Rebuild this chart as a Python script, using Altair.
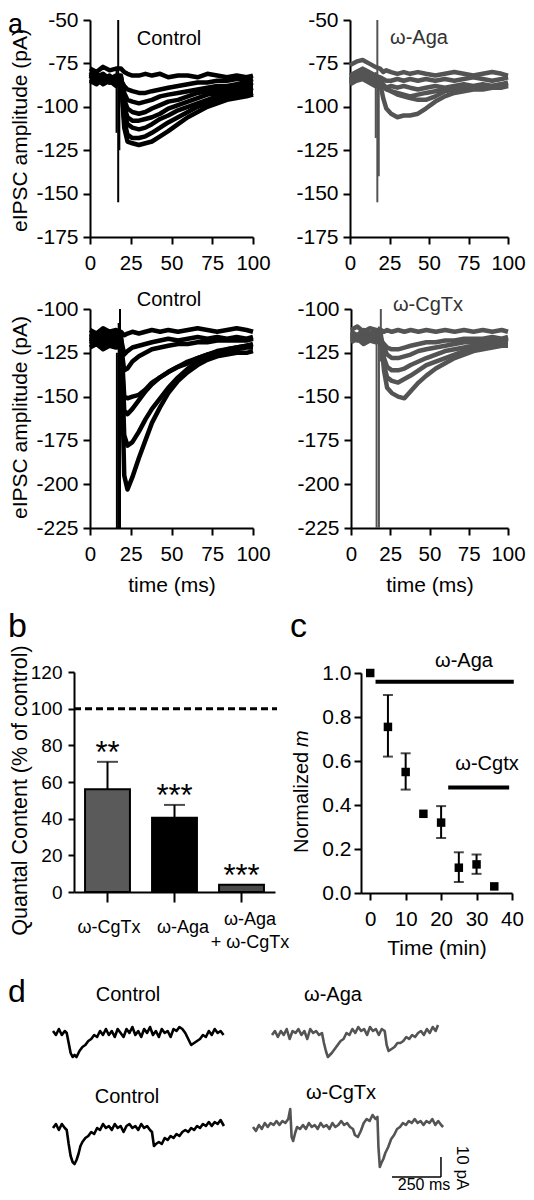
import altair as alt
import pandas as pd

W, H = 518, 1184
M = 8
FONT = "Liberation Sans"
BLACK = "#000000"
GRAY = "#545454"

# ---------------- panel a : evoked IPSC traces ----------------
T_A = [0, 4, 8, 12, 16, 19, 21, 23, 26, 30, 34, 38, 43, 48, 54, 60, 66, 72, 78, 84, 90, 96, 100]

CTRL1_TRACES = [
    [-78, -80, -77, -79, -78, -78, -80, -81, -82, -82, -81, -82, -81, -83, -82, -82, -83, -81, -82, -83, -82, -83, -82],
    [-84, -82, -85, -83, -86, -85, -88, -90, -91, -92, -92, -91, -90, -89, -88, -87, -86, -86, -85, -85, -84, -85, -84],
    [-82, -85, -83, -86, -84, -83, -92, -96, -97, -98, -97, -96, -94, -93, -92, -91, -90, -89, -88, -88, -87, -87, -86],
    [-86, -84, -87, -85, -88, -86, -96, -101, -103, -104, -103, -101, -99, -97, -96, -94, -92, -91, -90, -89, -89, -88, -88],
    [-80, -83, -81, -84, -82, -82, -100, -106, -108, -108, -107, -106, -104, -101, -99, -97, -95, -93, -92, -91, -90, -90, -89],
    [-85, -87, -84, -86, -85, -84, -104, -110, -112, -113, -112, -110, -107, -105, -102, -100, -98, -96, -94, -93, -92, -91, -91],
    [-83, -81, -84, -82, -86, -85, -108, -116, -118, -118, -117, -115, -112, -109, -106, -103, -100, -98, -96, -95, -94, -93, -92],
    [-81, -84, -82, -85, -83, -83, -112, -120, -121, -122, -121, -120, -117, -114, -110, -106, -103, -100, -98, -96, -95, -94, -93],
]
CTRL1_ART_T = [16.3, 17.3, 18.0]
CTRL1_ART_TOP = [-78, -50, -85]
CTRL1_ART_BOT = [-115, -155, -125]

AGA_TRACES = [
    [-76, -74, -73, -75, -77, -78, -80, -79, -80, -81, -80, -81, -80, -81, -82, -81, -80, -81, -82, -81, -80, -81, -82],
    [-82, -80, -78, -80, -82, -83, -84, -85, -85, -84, -85, -84, -85, -84, -85, -84, -85, -84, -83, -84, -85, -84, -83],
    [-85, -83, -81, -84, -86, -86, -88, -89, -88, -89, -88, -89, -90, -89, -88, -89, -88, -87, -88, -87, -88, -87, -86],
    [-87, -85, -84, -86, -88, -87, -88, -90, -91, -92, -93, -94, -93, -92, -91, -90, -89, -90, -89, -88, -89, -88, -87],
    [-84, -82, -80, -82, -84, -84, -87, -89, -91, -93, -94, -95, -96, -96, -94, -91, -90, -89, -89, -88, -88, -87, -87],
    [-86, -84, -82, -85, -87, -86, -95, -101, -104, -106, -105, -105, -104, -101, -97, -94, -92, -91, -90, -90, -89, -89, -88],
]
AGA_ART_T = [16.3, 17.3, 18.2]
AGA_ART_TOP = [-80, -50, -85]
AGA_ART_BOT = [-118, -155, -140]

CTRL2_TRACES = [
    [-112, -114, -111, -113, -112, -113, -115, -114, -113, -114, -113, -112, -113, -112, -113, -112, -111, -112, -113, -112, -111, -112, -113],
    [-118, -116, -119, -117, -118, -117, -126, -124, -122, -121, -120, -119, -118, -117, -118, -117, -116, -117, -116, -117, -116, -117, -116],
    [-122, -120, -123, -121, -122, -121, -135, -134, -130, -127, -125, -123, -122, -121, -120, -120, -119, -119, -118, -118, -118, -118, -117],
    [-115, -117, -114, -116, -115, -116, -150, -151, -150, -149, -146, -142, -139, -136, -133, -131, -128, -126, -124, -123, -122, -121, -120],
    [-120, -118, -121, -119, -120, -119, -158, -160, -157, -152, -147, -143, -139, -136, -133, -130, -128, -126, -125, -124, -123, -122, -122],
    [-117, -119, -116, -118, -117, -118, -172, -178, -176, -170, -163, -157, -151, -145, -139, -134, -130, -127, -125, -123, -122, -121, -121],
    [-114, -116, -113, -115, -114, -116, -195, -203, -196, -185, -175, -165, -156, -148, -141, -136, -132, -129, -127, -126, -125, -125, -124],
]
CTRL2_ART_T = [16.5, 17.6, 18.4]
CTRL2_ART_TOP = [-125, -108, -100]
CTRL2_ART_BOT = [-225, -225, -225]

CGTX_TRACES = [
    [-112, -110, -113, -111, -112, -112, -113, -112, -113, -112, -113, -112, -113, -112, -113, -112, -113, -112, -113, -112, -113, -112, -113],
    [-117, -115, -118, -116, -117, -118, -120, -122, -123, -123, -122, -121, -120, -119, -119, -118, -118, -117, -117, -117, -116, -117, -116],
    [-114, -116, -113, -115, -114, -116, -122, -126, -128, -128, -127, -126, -124, -123, -122, -121, -120, -119, -119, -118, -118, -118, -117],
    [-119, -117, -120, -118, -119, -118, -128, -133, -135, -135, -134, -132, -130, -128, -126, -124, -123, -122, -121, -120, -120, -119, -119],
    [-116, -118, -115, -117, -116, -117, -132, -139, -141, -142, -140, -138, -135, -132, -130, -128, -126, -124, -123, -122, -121, -120, -120],
    [-113, -115, -112, -114, -113, -114, -135, -145, -148, -150, -151, -147, -142, -138, -134, -131, -128, -126, -124, -123, -122, -121, -121],
]
CGTX_ART_T = [16.3, 17.8, 19.0]
CGTX_ART_TOP = [-112, -110, -100]
CGTX_ART_BOT = [-225, -225, -130]

# ---------------- panel b : quantal content ----------------
B_CATS = ["ω-CgTx", "ω-Aga", "ω-Aga + ω-CgTx"]
B_VALS = [56, 40.5, 4]
B_HI = [71, 47.5, 4]
B_STARS = ["**", "***", "***"]
B_LINE1 = ["ω-CgTx", "ω-Aga", "ω-Aga"]
B_LINE2 = ["", "", "+ ω-CgTx"]

# ---------------- panel c : normalized m over time ----------------
C_T = [0, 5, 10, 15, 20, 25, 30, 35]
C_M = [1.0, 0.755, 0.55, 0.36, 0.32, 0.115, 0.13, 0.03]
C_ERR_T = [5, 10, 20, 25, 30]
C_ERR_LO = [0.62, 0.47, 0.25, 0.05, 0.087]
C_ERR_HI = [0.90, 0.635, 0.395, 0.185, 0.175]
C_DRUG = ["ω-Aga", "ω-Cgtx"]
C_DRUG_START = [1.5, 22]
C_DRUG_END = [40.5, 39.2]
C_DRUG_Y = [0.96, 0.48]

# ---------------- panel d : spontaneous traces (ms, pA) ----------------
D_CTRL1 = [(0, 1), (15, -1), (30, 2), (45, -1), (60, 1), (70, 0), (80, -5), (90, -10), (100, -12), (110, -11),
           (120, -12), (135, -9), (150, -7), (165, -6), (180, -4), (195, -3), (210, -1), (225, -2), (240, 1), (255, -1),
           (270, 2), (285, -1), (300, 1), (315, -2), (330, 2), (345, 0), (360, -2), (375, 2), (390, 0), (405, 3),
           (420, -1), (435, 1), (450, -2), (465, 2), (480, 0), (495, 3), (510, -1), (525, 1), (540, -2), (555, 2),
           (570, 0), (585, 1), (600, -2), (615, 2), (630, 1), (645, 3), (660, 2), (675, 0), (690, -3), (705, -6),
           (720, -5), (735, -4), (750, -3), (765, -1), (780, -2), (795, 1), (810, -1), (825, 2), (840, 0), (855, 1), (870, -1)]
D_AGA = [(0, -1), (15, 1), (30, -2), (45, 1), (60, -1), (75, 2), (90, -3), (105, 1), (120, 0), (135, 2),
         (150, -1), (165, 1), (180, -3), (195, 2), (210, 0), (225, 1), (240, -1), (255, 0), (265, -5), (275, -9),
         (285, -12), (295, -11), (305, -10), (320, -8), (335, -6), (350, -4), (365, -3), (380, 0), (395, -1), (410, 2),
         (425, 0), (440, 3), (455, 1), (470, 2), (485, -1), (500, 3), (515, 1), (530, 2), (545, -1), (560, 2),
         (575, 1), (585, -6), (595, -9), (610, -8), (625, -7), (640, -5), (655, -5), (670, -4), (685, -2), (700, -3),
         (715, -1), (730, -2), (745, 0), (760, 1), (775, -1), (790, 2), (805, 0), (820, 3), (835, 1), (847, 4)]
D_CTRL2 = [(0, 0), (15, 2), (30, -1), (45, 2), (60, 0), (70, -1), (80, -8), (90, -14), (100, -17), (110, -18),
           (120, -16), (130, -13), (140, -9), (150, -7), (165, -5), (180, -4), (195, -2), (210, -3), (225, 0), (240, -1),
           (255, 2), (270, 0), (285, 1), (300, -1), (315, 2), (330, 0), (345, 1), (360, -2), (375, 1), (390, 2),
           (405, 0), (420, 1), (435, -1), (450, 2), (465, 0), (480, 1), (495, -1), (505, -2), (515, -9), (525, -8),
           (540, -7), (555, -8), (570, -5), (585, -6), (600, -4), (615, -5), (630, -3), (645, -4), (660, -2), (675, -1),
           (690, -2), (705, 0), (720, -1), (735, 1), (750, 0), (765, 2), (780, 1), (795, 3), (810, 1), (825, 3),
           (840, 2), (855, 4), (872, 1)]
D_CGTX = [(0, 0), (15, -2), (30, 1), (45, -1), (60, 2), (75, 0), (90, 2), (105, 1), (120, 3), (135, 1),
          (150, 3), (165, 2), (180, 4), (190, 9), (197, -5), (205, -7), (215, -3), (225, 0), (240, -1), (255, 1),
          (270, -1), (285, 2), (300, 0), (315, 1), (330, -1), (345, 2), (360, 0), (375, 1), (390, -1), (405, 2),
          (420, 0), (435, 1), (450, 3), (465, 1), (480, 2), (495, 0), (510, -1), (520, -4), (535, -5), (550, -2),
          (565, 2), (580, 4), (595, 3), (610, 6), (625, 4), (635, 5), (640, -10), (647, -20), (655, -18), (665, -16),
          (675, -13), (690, -10), (705, -6), (720, -4), (735, -1), (750, 0), (765, 2), (780, 1), (795, 3), (810, 2),
          (825, 4), (840, 2), (855, 3), (870, 1), (885, 3), (900, 2), (915, 4), (930, 1), (945, 3), (960, 1), (970, 0)]
SCALE_MS = 250
SCALE_PA = 10


# ---------------- helpers ----------------
def xscale(domain, r0, r1):
    return alt.Scale(domain=domain, range=[r0 - M, r1 - M], nice=False, zero=False)


def yscale(domain, bottom, top):
    return alt.Scale(domain=domain, range=[bottom - M, top - M], nice=False, zero=False)


AX = dict(grid=False, domainColor=BLACK, tickColor=BLACK, labelColor=BLACK, titleColor=BLACK,
          domainWidth=2, tickWidth=2, labelFont=FONT, titleFont=FONT, titleFontWeight="normal",
          labelFlush=False, labelOverlap=False, labelAngle=0)


def x_axis(y_ref, values, size=20.5, tick=7, pad=9, title=None, title_y=0, fmt=None, labels=True):
    kw = dict(AX)
    kw.update(orient="bottom", offset=(y_ref - M) - H, values=values, tickSize=tick,
              labelPadding=pad, labelFontSize=size, labels=labels)
    if fmt:
        kw["format"] = fmt
    if title:
        kw.update(title=title, titleFontSize=21, titleY=title_y, titleBaseline="middle")
    else:
        kw["title"] = None
    return alt.Axis(**kw)


def y_axis(x_ref, values, size=21, tick=7, pad=5, title=None, title_x=0, title_y=0, fmt=None, title_size=21):
    kw = dict(AX)
    kw.update(orient="left", offset=-(x_ref - M), values=values, tickSize=tick,
              labelPadding=pad, labelFontSize=size)
    if fmt:
        kw["format"] = fmt
    else:
        kw["labelExpr"] = "'' + datum.value"
    if title:
        kw.update(title=title, titleFontSize=title_size, titleX=title_x - x_ref,
                  titleY=title_y - M, titleBaseline="middle", titleAngle=270)
    else:
        kw["title"] = None
    return alt.Axis(**kw)


def label(text, x, y, size=20, color=BLACK, align="center", baseline="middle", angle=0, style="normal"):
    return alt.Chart(pd.DataFrame({"s": [text]})).mark_text(
        font=FONT, fontSize=size, color=color, align=align, baseline=baseline,
        angle=angle, fontStyle=style
    ).encode(x=alt.value(x - M), y=alt.value(y - M), text="s:N")


def traces_df(T, traces):
    rows = []
    for k, vals in enumerate(traces):
        for t, v in zip(T, vals):
            rows.append({"t": t, "v": v, "k": k})
    return pd.DataFrame(rows)


def panel_a(traces, at, atop, abot, color, xr, ydom, yr, axis_y, axis_x, yvals, ytitle, title_y, xtitle):
    xs = xscale([0, 100], xr[0], xr[1])
    ys = yscale(ydom, yr[0], yr[1])
    lines = alt.Chart(traces_df(T_A, traces)).mark_line(
        color=color, strokeWidth=4.5, strokeJoin="round"
    ).encode(
        x=alt.X("t:Q", scale=xs, axis=x_axis(axis_y, [0, 25, 50, 75, 100],
                                             title=xtitle, title_y=57)),
        y=alt.Y("v:Q", scale=ys, axis=y_axis(axis_x, yvals, title=ytitle, title_x=20, title_y=title_y)),
        detail="k:N",
    )
    art = alt.Chart(pd.DataFrame({"t": at, "top": atop, "bot": abot})).mark_rule(
        color=color, strokeWidth=2
    ).encode(
        x=alt.X("t:Q", scale=xs, axis=None),
        y=alt.Y("top:Q", scale=ys, axis=None),
        y2="bot:Q",
    )
    return [lines, art]


layers = []

# ---- panel a ----
YV1 = [-175, -150, -125, -100, -75, -50]
YV2 = [-225, -200, -175, -150, -125, -100]
layers += panel_a(CTRL1_TRACES, CTRL1_ART_T, CTRL1_ART_TOP, CTRL1_ART_BOT, BLACK,
                  (90, 253), [-175, -50], (237, 20), 237, 90, YV1, "eIPSC amplitude (pA)", 130, None)
layers += panel_a(AGA_TRACES, AGA_ART_T, AGA_ART_TOP, AGA_ART_BOT, GRAY,
                  (350, 508), [-175, -50], (237, 20), 237, 350, YV1, None, 0, None)
layers += panel_a(CTRL2_TRACES, CTRL2_ART_T, CTRL2_ART_TOP, CTRL2_ART_BOT, BLACK,
                  (90, 253), [-225, -100], (528, 309), 528, 90, YV2, "eIPSC amplitude (pA)", 417, "time (ms)")
layers += panel_a(CGTX_TRACES, CGTX_ART_T, CGTX_ART_TOP, CGTX_ART_BOT, GRAY,
                  (351, 508), [-225, -100], (528, 309), 528, 351, YV2, None, 0, "time (ms)")
layers += [
    label("Control", 169, 39),
    label("ω-Aga", 419, 38, color="#333333"),
    label("Control", 169, 300),
    label("ω-CgTx", 428, 305, color="#333333"),
]

# ---- panel b ----
bx = alt.Scale(domain=B_CATS, range=[74 - M, 275 - M], paddingInner=0.33, paddingOuter=0.165)
by = yscale([0, 120], 892, 672)
bdf = pd.DataFrame({"cat": B_CATS, "val": B_VALS, "hi": B_HI, "stars": B_STARS,
                    "l1": B_LINE1, "l2": B_LINE2})
bfill = alt.Scale(domain=B_CATS, range=["#5a5a5a", "#000000", "#4a4a4a"])
bax = dict(AX)
bax.update(orient="bottom", offset=(892 - M) - H, labels=False, tickSize=10, title=None)
layers.append(
    alt.Chart(bdf).mark_bar(stroke=BLACK, strokeWidth=2).encode(
        x=alt.X("cat:N", scale=bx, sort=B_CATS, axis=alt.Axis(**bax)),
        y=alt.Y("val:Q", scale=by, axis=y_axis(74, [0, 20, 40, 60, 80, 100, 120], size=19, tick=6, pad=6,
                                                title="Quantal Content (% of control)", title_x=20,
                                                title_y=790, title_size=21.5)),
        color=alt.Color("cat:N", scale=bfill, legend=None),
    )
)
berr = bdf[bdf["hi"] > bdf["val"]]
layers.append(
    alt.Chart(berr).mark_rule(color=BLACK, strokeWidth=2).encode(
        x=alt.X("cat:N", scale=bx, axis=None), y=alt.Y("val:Q", scale=by, axis=None), y2="hi:Q")
)
layers.append(
    alt.Chart(berr).mark_tick(color=BLACK, orient="horizontal", size=21, thickness=2).encode(
        x=alt.X("cat:N", scale=bx, axis=None), y=alt.Y("hi:Q", scale=by, axis=None))
)
layers.append(
    alt.Chart(bdf).mark_text(font=FONT, fontSize=31, baseline="alphabetic", dy=1, color=BLACK).encode(
        x=alt.X("cat:N", scale=bx, axis=None), y=alt.Y("hi:Q", scale=by, axis=None), text="stars:N")
)
layers.append(
    alt.Chart(pd.DataFrame({"v": [100]})).mark_rule(color=BLACK, strokeWidth=3, strokeDash=[7, 4]).encode(
        y=alt.Y("v:Q", scale=by, axis=None), x=alt.value(74 - M), x2=alt.value(277 - M))
)
for i, dx in enumerate([1.5, 8.5, 8.5]):
    sub = bdf.iloc[[i]]
    first_y = 925 if B_LINE2[i] else 933
    layers.append(
        alt.Chart(sub).mark_text(font=FONT, fontSize=18, baseline="alphabetic", dx=dx, color=BLACK).encode(
            x=alt.X("cat:N", scale=bx, axis=None), y=alt.value(first_y - M), text="l1:N")
    )
    if B_LINE2[i]:
        layers.append(
            alt.Chart(sub).mark_text(font=FONT, fontSize=18, baseline="alphabetic", dx=dx, color=BLACK).encode(
                x=alt.X("cat:N", scale=bx, axis=None), y=alt.value(948 - M), text="l2:N")
        )

# ---- panel c ----
cx = xscale([-2.6, 40], 361, 512)
cy = yscale([0, 1], 893, 673)
cdf = pd.DataFrame({"t": C_T, "m": C_M})
edf = pd.DataFrame({"t": C_ERR_T, "lo": C_ERR_LO, "hi": C_ERR_HI})
capdf = pd.DataFrame({"t": C_ERR_T + C_ERR_T, "c": C_ERR_LO + C_ERR_HI})
ddf = pd.DataFrame({"d": C_DRUG, "s": C_DRUG_START, "e": C_DRUG_END, "y": C_DRUG_Y})
layers.append(
    alt.Chart(edf).mark_rule(color=BLACK, strokeWidth=2).encode(
        x=alt.X("t:Q", scale=cx, axis=x_axis(893, [0, 10, 20, 30, 40], tick=7, pad=9,
                                            title="Time (min)", title_y=55)),
        y=alt.Y("lo:Q", scale=cy, axis=y_axis(361, [0, 0.2, 0.4, 0.6, 0.8, 1.0], tick=7, pad=3, fmt=".1f")),
        y2="hi:Q")
)
layers.append(
    alt.Chart(capdf).mark_tick(color=BLACK, orient="horizontal", size=10, thickness=2).encode(
        x=alt.X("t:Q", scale=cx, axis=None), y=alt.Y("c:Q", scale=cy, axis=None))
)
layers.append(
    alt.Chart(cdf).mark_square(color=BLACK, size=72, opacity=1).encode(
        x=alt.X("t:Q", scale=cx, axis=None), y=alt.Y("m:Q", scale=cy, axis=None))
)
layers.append(
    alt.Chart(ddf).mark_rule(color=BLACK, strokeWidth=4).encode(
        x=alt.X("s:Q", scale=cx, axis=None), x2="e:Q", y=alt.Y("y:Q", scale=cy, axis=None))
)
layers += [
    label("ω-Aga", 464, 661),
    label("ω-Cgtx", 487, 764),
    label("Normalized", 302, 853, angle=270, align="left"),
    label("m", 302, 747, angle=270, align="left", style="italic"),
]

# ---- panel d ----
def d_trace(pairs, color, x0, base):
    df = pd.DataFrame(pairs, columns=["t", "v"])
    xs = xscale([0, 1000], x0, x0 + 196)
    ys = yscale([-25, 10], base + 50, base - 20)
    ch = alt.Chart(df).mark_line(color=color, strokeWidth=2.6, strokeJoin="round").encode(
        x=alt.X("t:Q", scale=xs, axis=None), y=alt.Y("v:Q", scale=ys, axis=None))
    return ch, xs, ys


c1, _, _ = d_trace(D_CTRL1, BLACK, 53, 1033)
a1, _, _ = d_trace(D_AGA, GRAY, 272, 1033)
c2, _, _ = d_trace(D_CTRL2, BLACK, 53, 1128)
g1, gxs, gys = d_trace(D_CGTX, GRAY, 253, 1127)
layers += [c1, a1, c2, g1]
SB_T0, SB_V0 = 709, -25
sbdf = pd.DataFrame({"x": [SB_T0, SB_T0 + SCALE_MS], "x2": [SB_T0 + SCALE_MS, SB_T0 + SCALE_MS],
                     "y": [SB_V0, SB_V0], "y2": [SB_V0, SB_V0 + SCALE_PA]})
layers.append(
    alt.Chart(sbdf).mark_rule(color=BLACK, strokeWidth=1.5).encode(
        x=alt.X("x:Q", scale=gxs, axis=None), x2="x2:Q",
        y=alt.Y("y:Q", scale=gys, axis=None), y2="y2:Q")
)
layers += [
    label("Control", 128, 995),
    label("ω-Aga", 333, 995),
    label("Control", 127, 1097),
    label("ω-CgTx", 341, 1093),
    label(f"{SCALE_MS} ms", 424, 1190, size=16, baseline="alphabetic"),
    label(f"{SCALE_PA} pA", 462, 1168, size=17, angle=90),
]

# ---- panel letters ----
layers += [
    label("a", 8, 12, size=27, align="left", baseline="top"),
    label("b", 8, 637, size=34, align="left", baseline="alphabetic"),
    label("c", 290, 637, size=34, align="left", baseline="alphabetic"),
    label("d", 8, 1002, size=32, align="left", baseline="alphabetic"),
]

chart = alt.layer(*layers).resolve_scale(
    x="independent", y="independent"
).properties(
    width=W, height=H, autosize=alt.AutoSizeParams(type="none"), padding=0, background="white"
).configure_view(stroke="transparent")

chart.save("out.html", embed_options={"renderer": "svg", "actions": False})
